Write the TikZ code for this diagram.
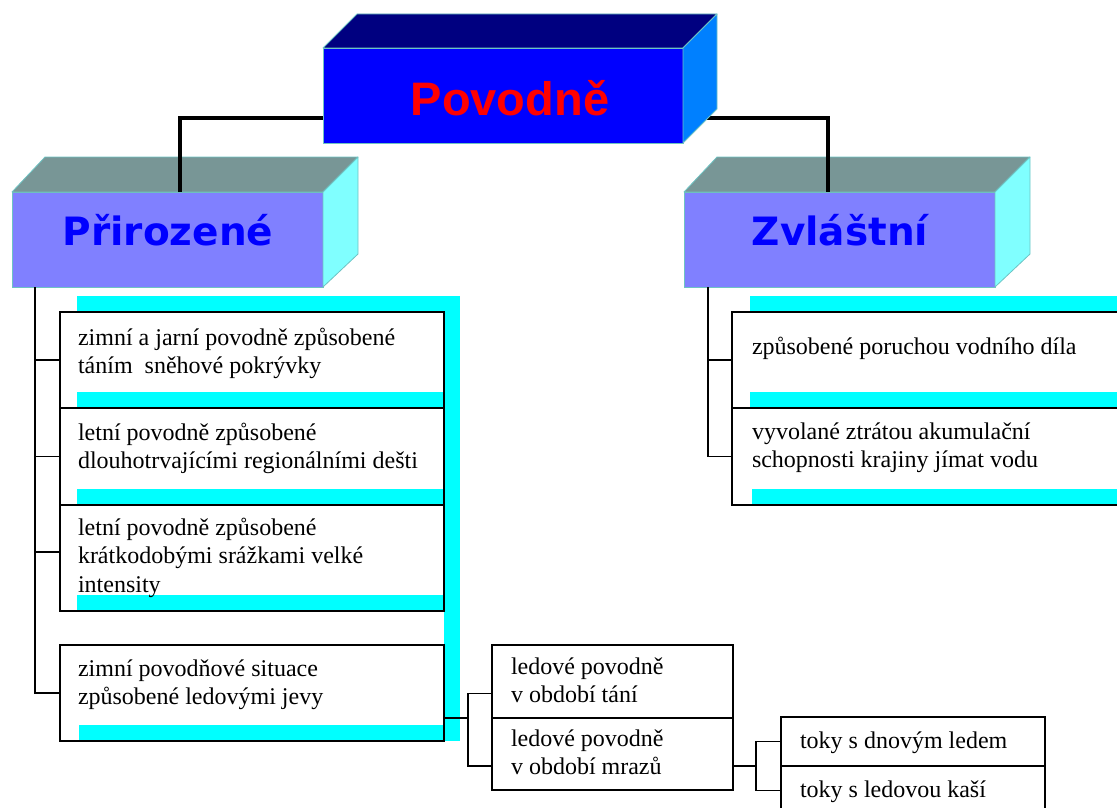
\documentclass[tikz,border=0pt]{standalone}
\usepackage{fontspec}
\setmainfont{Liberation Serif}
\newfontfamily\headfont{DejaVu Sans}
\newfontfamily\titlefont{Liberation Sans}
\usetikzlibrary{calc}
\pgfdeclarelayer{bglayer}
\pgfdeclarelayer{fglayer}
\pgfsetlayers{bglayer,main,fglayer}
\definecolor{povfront}{RGB}{0,0,255}
\definecolor{povtop}{RGB}{0,0,128}
\definecolor{povside}{RGB}{0,128,255}
\definecolor{subfront}{RGB}{128,128,255}
\definecolor{subtop}{RGB}{120,150,150}
\definecolor{subside}{RGB}{128,255,255}
\definecolor{shadowcyan}{RGB}{0,255,255}
\definecolor{edgecol}{RGB}{110,195,195}
\definecolor{subtext}{RGB}{0,0,255}
\definecolor{titletext}{RGB}{255,0,0}
\tikzset{
  frontface/.style={rectangle, inner sep=0pt, outer sep=0pt, draw=edgecol, line width=0.8pt, anchor=north west},
  faceedge/.style={draw=edgecol, line width=0.8pt, line join=round},
  textbox/.style={rectangle, draw=black, line width=1.6pt, inner sep=0pt, outer sep=0pt, anchor=north west},
  boxtext/.style={anchor=base west, inner sep=0pt, outer sep=0pt, align=left, font=\fontsize{24}{28.5}\selectfont},
  subhead/.style={anchor=base, inner sep=0pt, text=subtext, font=\headfont\bfseries\fontsize{39}{44}\selectfont},
  link/.style={draw=black, line width=1.6pt},
  bus/.style={draw=black, line width=4.5pt},
  cyanstrip/.style={fill=shadowcyan}
}
\begin{document}
\begin{tikzpicture}[x=1pt,y=-1pt]
\useasboundingbox (0,0) rectangle (1117,808);
\clip (0,0) rectangle (1117,808);

% ---------- main title box (front layer) ----------
\begin{pgfonlayer}{fglayer}
  \node[frontface, fill=povfront, minimum width=360pt, minimum height=95pt] (pov) at (323,48) {};
  \filldraw[fill=povtop, faceedge] (pov.north west) -- ++(34,-34) -- ($(pov.north east)+(34,-34)$) -- (pov.north east) -- cycle;
  \filldraw[fill=povside, faceedge] (pov.north east) -- ++(34,-34) -- ($(pov.south east)+(34,-34)$) -- (pov.south east) -- cycle;
  \node[anchor=base, inner sep=0pt, text=titletext, font=\titlefont\bfseries\fontsize{47}{52}\selectfont] (povt) at ($(pov.south west)+(187,-28)$) {Povodně};
\end{pgfonlayer}

% ---------- second level boxes ----------
\node[frontface, fill=subfront, minimum width=311pt, minimum height=95pt] (prir) at (12,192) {};
\filldraw[fill=subtop, faceedge] (prir.north west) -- ++(33,-35) -- ($(prir.north east)+(35,-35)$) -- (prir.north east) -- cycle;
\filldraw[fill=subside, faceedge] (prir.north east) -- ++(35,-35) -- ($(prir.south east)+(35,-33)$) -- (prir.south east) -- cycle;
\node[subhead] (prirt) at ($(prir.south west)+(156,-42)$) {Přirozené};

\node[frontface, fill=subfront, minimum width=311pt, minimum height=95pt] (zvl) at (684,192) {};
\filldraw[fill=subtop, faceedge] (zvl.north west) -- ++(33,-35) -- ($(zvl.north east)+(35,-35)$) -- (zvl.north east) -- cycle;
\filldraw[fill=subside, faceedge] (zvl.north east) -- ++(35,-35) -- ($(zvl.south east)+(35,-33)$) -- (zvl.south east) -- cycle;
\node[subhead] (zvlt) at ($(zvl.south west)+(156,-42)$) {Zvláštní};

% thick bus
\draw[bus] ([xshift=168pt]prir.north west) |- ([yshift=-22.5pt]pov.west) -- ([yshift=-22.5pt]pov.east) -| ([xshift=144pt]zvl.north west);

% ---------- text boxes ----------
\node[textbox, minimum width=384pt, minimum height=96pt] (b1) at (60,312) {};
\node[textbox, minimum width=384pt, minimum height=97pt] (b2) at (60,408) {};
\node[textbox, minimum width=384pt, minimum height=106pt] (b3) at (60,505) {};
\node[textbox, minimum width=384pt, minimum height=96pt] (b4) at (60,645) {};

\node[textbox, minimum width=420pt, minimum height=96pt] (rb1) at (732,312) {};
\node[textbox, minimum width=420pt, minimum height=97pt] (rb2) at (732,408) {};

\node[textbox, minimum width=241pt, minimum height=73pt] (ice1) at (492,645) {};
\node[textbox, minimum width=241pt, minimum height=72pt] (ice2) at (492,718) {};

\node[textbox, minimum width=264pt, minimum height=49pt] (tk1) at (781,717) {};
\node[textbox, minimum width=264pt, minimum height=49pt] (tk2) at (781,766) {};

% cyan shadows
\begin{pgfonlayer}{bglayer}
  \clip (0,0) rectangle (1117,808);
  \fill[cyanstrip] ($(b1.north west)+(17,-16)$) rectangle ($(b1.north east)+(16,0)$);
  \fill[cyanstrip] ($(b1.north east)+(0,-16)$) rectangle ($(b4.south east)+(16,0)$);
  \fill[cyanstrip] ($(b1.south west)+(17,-16)$) rectangle (b1.south east);
  \fill[cyanstrip] ($(b2.south west)+(17,-16)$) rectangle (b2.south east);
  \fill[cyanstrip] ($(b3.south west)+(17,-16)$) rectangle (b3.south east);
  \fill[cyanstrip] ($(b4.south west)+(19,-16)$) rectangle (b4.south east);
  \fill[cyanstrip] ($(rb1.north west)+(18,-16)$) rectangle ($(rb1.north east)+(16,0)$);
  \fill[cyanstrip] ($(rb1.south west)+(18,-16)$) rectangle (rb1.south east);
  \fill[cyanstrip] ($(rb2.south west)+(20,-16)$) rectangle (rb2.south east);
\end{pgfonlayer}

% texts (base anchor = baseline of last line)
\node[boxtext] (t1) at ($(b1.north west)+(18,61.5)$) {zimní a jarní povodně způsobené\\táním\ \ sněhové pokrývky};
\node[boxtext] (t2) at ($(b2.north west)+(18,60.5)$) {letní povodně způsobené\\dlouhotrvajícími regionálními dešti};
\node[boxtext] (t3) at ($(b3.north west)+(18,87)$) {letní povodně způsobené\\krátkodobými srážkami velké\\intensity};
\node[boxtext] (t4) at ($(b4.north west)+(18,59.5)$) {zimní povodňové situace\\způsobené ledovými jevy};
\node[boxtext] (rt1) at ($(rb1.north west)+(20,42)$) {způsobené poruchou vodního díla};
\node[boxtext] (rt2) at ($(rb2.north west)+(20,59.5)$) {vyvolané ztrátou akumulační\\schopnosti krajiny jímat vodu};
\node[boxtext] (it1) at ($(ice1.north west)+(19,57.5)$) {ledové povodně\\v období tání};
\node[boxtext] (it2) at ($(ice2.north west)+(19,56.5)$) {ledové povodně\\v období mrazů};
\node[boxtext] (kt1) at ($(tk1.north west)+(19,31)$) {toky s dnovým ledem};
\node[boxtext] (kt2) at ($(tk2.north west)+(19,31)$) {toky s ledovou kaší};

% thin connectors
\coordinate (ls) at ([xshift=23pt]prir.south west);
\draw[link] (ls) |- (b4.west);
\draw[link] (b1.west) -- (b1.west -| ls);
\draw[link] (b2.west) -- (b2.west -| ls);
\draw[link] ([yshift=6pt]b3.west) -- ([yshift=6pt]b3.west -| ls);

\coordinate (rs) at ([xshift=24pt]zvl.south west);
\draw[link] (rs) |- (rb2.west);
\draw[link] (rb1.west) -- (rb1.west -| rs);

\draw[link] ([yshift=23pt]b4.south east) -- ++(24,0) coordinate (ij);
\draw[link] ([yshift=-12pt]ice1.west) -| (ij) |- ([yshift=-12pt]ice2.west);

\draw[link] ([yshift=-12pt]ice2.east) -- ++(23,0) coordinate (kj);
\draw[link] (tk1.west) -| (kj) |- (tk2.west);
\end{tikzpicture}
\end{document}
